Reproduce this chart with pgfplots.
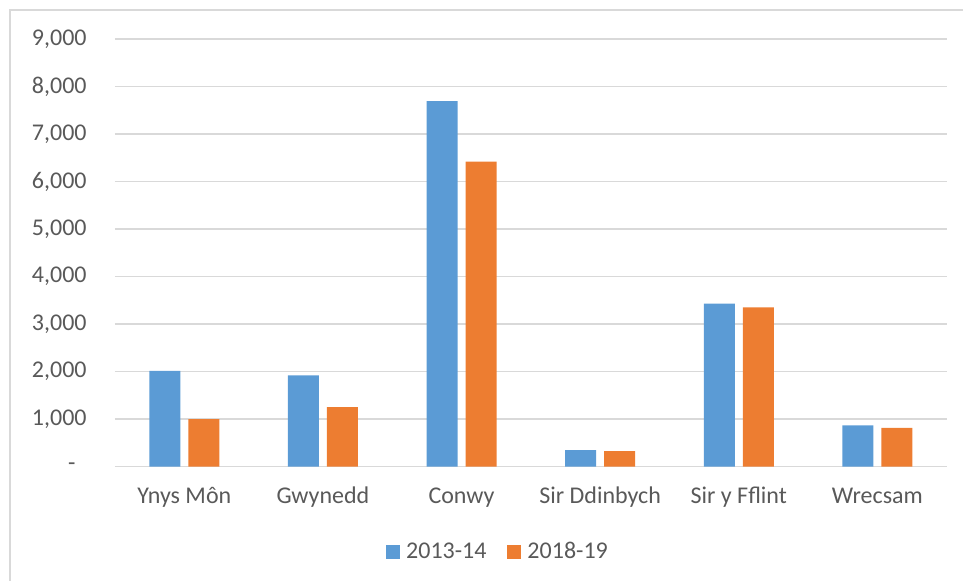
\documentclass[border=0pt]{standalone}
\usepackage{pgfplots}
\pgfplotsset{compat=1.18}
\usepackage{fontspec}
\setmainfont{Carlito}
\definecolor{cblue}{HTML}{5B9BD5}
\definecolor{corange}{HTML}{ED7D31}
\definecolor{cgrid}{HTML}{D9D9D9}
\definecolor{ctext}{HTML}{595959}
\begin{document}
\begin{tikzpicture}
\useasboundingbox (-57.5pt,-56.65pt) rectangle (424pt,233.35pt);
\draw[cgrid, line width=0.75pt] (-52.5pt,-60pt) -- (-52.5pt,228.35pt) -- (430pt,228.35pt);
\begin{axis}[
  at={(0pt,0pt)}, anchor=south west,
  scale only axis, width=415.85pt, height=213.75pt,
  xmin=-0.5, xmax=5.5, ymin=0, ymax=9000,
  ybar=4pt, bar width=15.5pt,
  axis line style={draw=none},
  major tick length=0pt,
  ymajorgrids, grid style={cgrid, line width=0.75pt},
  ytick={0,1000,2000,3000,4000,5000,6000,7000,8000,9000},
  yticklabels={{-\kern5.5pt},{1,000},{2,000},{3,000},{4,000},{5,000},{6,000},{7,000},{8,000},{9,000}},
  xtick={0,1,2,3,4,5},
  xticklabels={Ynys Môn,Gwynedd,Conwy,Sir Ddinbych,Sir y Fflint,Wrecsam},
  tick label style={font=\fontsize{12}{14}\selectfont, text=ctext},
  yticklabel style={anchor=east, inner sep=0pt, xshift=-14pt},
  xticklabel style={anchor=base, inner sep=0pt, yshift=-18.6pt},
  legend columns=2,
  legend style={at={(0.4593,-0.1995)}, anchor=center, draw=none, fill=none,
    font=\fontsize{12}{14}\selectfont, text=ctext,
    nodes={inner sep=0pt},
    /tikz/every odd column/.append style={column sep=3pt},
    /tikz/every even column/.append style={column sep=10.5pt}},
  legend image code/.code={\fill[#1] (0pt,-3.5pt) rectangle (7pt,3.5pt);},
]
\addplot[fill=cblue, draw=none] coordinates {(0,2015) (1,1924) (2,7699) (3,351) (4,3432) (5,871)};
\addplot[fill=corange, draw=none] coordinates {(0,1004) (1,1257) (2,6421) (3,330) (4,3356) (5,815)};
\legend{2013-14,2018-19}
\end{axis}
\end{tikzpicture}
\end{document}
